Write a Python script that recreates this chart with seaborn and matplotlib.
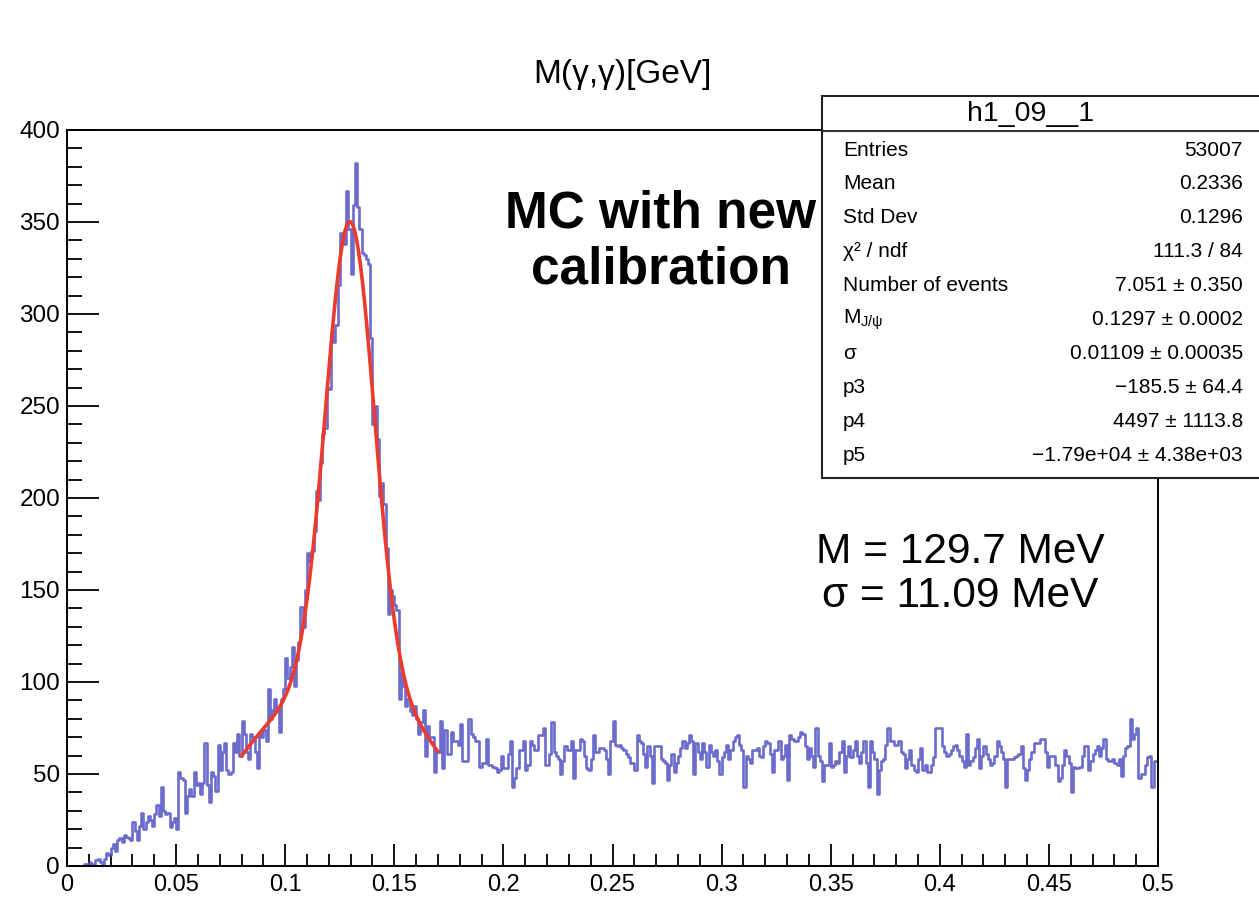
import numpy as np
import pandas as pd
import matplotlib
matplotlib.use("Agg")
import matplotlib.pyplot as plt
import seaborn as sns
from matplotlib.ticker import MultipleLocator, FixedLocator, FixedFormatter

# ---------------- data ----------------
# 500 bins of 0.001 GeV between 0 and 0.5
counts = [
    0, 0, 0, 0, 0, 0, 0, 0, 1, 0,
    2, 1, 0, 3, 4, 2, 1, 4, 7, 6,
    10, 12, 8, 14, 15, 13, 17, 16, 15, 14,
    24, 19, 14, 22, 29, 20, 24, 27, 25, 22,
    28, 33, 27, 43, 30, 28, 29, 21, 24, 26,
    20, 51, 48, 47, 29, 38, 42, 38, 51, 44,
    45, 39, 45, 67, 44, 35, 51, 49, 41, 66,
    52, 62, 67, 52, 50, 51, 67, 62, 72, 60,
    79, 72, 62, 58, 72, 70, 62, 53, 73, 70,
    74, 68, 96, 80, 85, 91, 84, 73, 91, 96,
    113, 102, 108, 119, 98, 112, 122, 141, 130, 150,
    170, 165, 171, 182, 204, 199, 219, 235, 238, 260,
    259, 290, 285, 294, 316, 344, 341, 338, 367, 346,
    322, 359, 382, 358, 346, 333, 332, 330, 327, 287,
    240, 250, 232, 201, 208, 197, 173, 137, 150, 147,
    142, 139, 91, 105, 98, 87, 91, 84, 82, 87,
    80, 72, 78, 85, 60, 76, 70, 70, 51, 62,
    62, 79, 53, 74, 61, 61, 73, 68, 68, 66,
    77, 57, 57, 57, 80, 72, 70, 68, 68, 54,
    56, 56, 69, 55, 55, 54, 53, 51, 52, 60,
    53, 53, 61, 68, 43, 48, 53, 63, 63, 68,
    52, 55, 68, 66, 63, 63, 71, 71, 75, 55,
    55, 61, 78, 62, 60, 58, 50, 57, 65, 63,
    63, 68, 48, 63, 63, 69, 68, 60, 53, 52,
    58, 71, 62, 62, 64, 64, 63, 58, 50, 68,
    79, 66, 65, 66, 64, 63, 61, 59, 56, 56,
    52, 71, 68, 67, 61, 54, 65, 60, 45, 65,
    65, 65, 58, 57, 56, 47, 55, 61, 51, 56,
    60, 64, 68, 64, 67, 71, 68, 50, 67, 62,
    58, 67, 62, 54, 66, 62, 60, 63, 57, 50,
    59, 62, 66, 58, 63, 68, 70, 71, 66, 63,
    43, 60, 58, 56, 63, 63, 64, 60, 59, 65,
    68, 67, 61, 51, 63, 63, 68, 58, 60, 66,
    47, 71, 69, 68, 68, 70, 73, 72, 65, 58,
    64, 60, 54, 75, 60, 57, 46, 55, 55, 67,
    54, 55, 57, 56, 62, 68, 51, 60, 65, 59,
    63, 68, 60, 56, 62, 68, 56, 43, 68, 62,
    58, 39, 52, 57, 58, 66, 75, 68, 68, 66,
    66, 68, 62, 61, 53, 58, 63, 55, 52, 51,
    58, 64, 52, 55, 51, 51, 55, 59, 75, 75,
    75, 65, 62, 60, 61, 63, 65, 66, 63, 60,
    57, 54, 72, 55, 57, 59, 64, 69, 53, 60,
    65, 61, 58, 55, 56, 60, 68, 65, 62, 58,
    43, 58, 58, 58, 59, 60, 61, 65, 53, 47,
    52, 58, 62, 67, 67, 67, 69, 69, 62, 54,
    60, 60, 60, 55, 46, 48, 55, 63, 60, 56,
    40, 54, 53, 53, 54, 60, 65, 65, 52, 57,
    61, 63, 65, 60, 64, 69, 58, 57, 57, 58,
    56, 55, 58, 49, 60, 64, 65, 80, 69, 72,
    75, 48, 50, 50, 55, 59, 60, 43, 57, 57,
]
x_min, x_max = 0.0, 0.5

# fit parameters as printed in the stat box (gaus + pol2)
n_events = 7.051
mass = 0.1297
sigma = 0.01109
p3, p4, p5 = -185.5, 4497.0, -1.79e4
fit_lo, fit_hi = 0.08, 0.17

stat_labels = ["Entries", "Mean", "Std Dev", "χ² / ndf", "Number of events",
               r"M$_{\mathregular{J/\psi}}$", "σ", "p3", "p4", "p5"]
stat_values = ["53007", "0.2336", "0.1296", "111.3 / 84", "7.051 ± 0.350",
               "0.1297 ± 0.0002", "0.01109 ± 0.00035", "−185.5 ± 64.4",
               "4497 ± 1113.8", "−1.79e+04 ± 4.38e+03"]

x_ticks = [0, 0.05, 0.1, 0.15, 0.2, 0.25, 0.3, 0.35, 0.4, 0.45, 0.5]
x_tick_labels = ["0", "0.05", "0.1", "0.15", "0.2", "0.25", "0.3", "0.35", "0.4", "0.45", "0.5"]
y_ticks = [0, 50, 100, 150, 200, 250, 300, 350, 400]

# ---------------- plotting ----------------
sns.set_style("white")
plt.rcParams["font.family"] = ["Liberation Sans", "DejaVu Sans"]
plt.rcParams["mathtext.fontset"] = "custom"
plt.rcParams["mathtext.rm"] = "Liberation Sans"
plt.rcParams["mathtext.it"] = "Liberation Sans:italic"
plt.rcParams["text.color"] = "black"
plt.rcParams["xtick.color"] = "black"
plt.rcParams["ytick.color"] = "black"

W, H = 1259, 901
fig = plt.figure(figsize=(W / 100, H / 100), dpi=100)

def fx(px):
    return px / W

def fy(py):
    return 1 - py / H

ax = fig.add_axes([fx(67), fy(866), (1158 - 67) / W, (866 - 130) / H])

bin_w = (x_max - x_min) / len(counts)
centers = x_min + bin_w * (np.arange(len(counts)) + 0.5)
hist_df = pd.DataFrame({"mass": centers, "count": counts})
sns.histplot(data=hist_df, x="mass", weights="count", bins=len(counts),
             binrange=(x_min, x_max), element="step", fill=False,
             color="#5252c4", linewidth=1.9, alpha=0.85, ax=ax)

xf = np.linspace(fit_lo, fit_hi, 100)
yf = (n_events / (np.sqrt(2 * np.pi) * sigma) * np.exp(-0.5 * ((xf - mass) / sigma) ** 2)
      + p3 + p4 * xf + p5 * xf ** 2)
sns.lineplot(x=xf, y=yf, color="#ec3b2c", linewidth=2.6, estimator=None, ax=ax)

ax.set_xlim(x_min, x_max)
ax.set_ylim(0, 400)
ax.set_xlabel("")
ax.set_ylabel("")
ax.xaxis.set_major_locator(FixedLocator(x_ticks))
ax.xaxis.set_major_formatter(FixedFormatter(x_tick_labels))
ax.xaxis.set_minor_locator(MultipleLocator(0.01))
ax.yaxis.set_major_locator(FixedLocator(y_ticks))
ax.yaxis.set_minor_locator(MultipleLocator(10))
ax.tick_params(axis="x", which="major", direction="in", length=16, width=1.3,
               labelsize=17, pad=6, bottom=True, top=False)
ax.tick_params(axis="x", which="minor", direction="in", length=8.5, width=1.3,
               bottom=True, top=False)
ax.tick_params(axis="y", which="major", direction="in", length=23, width=1.3,
               labelsize=17.5, pad=5, left=True, right=False)
ax.tick_params(axis="y", which="minor", direction="in", length=11, width=1.3,
               left=True, right=False)
for sp in ax.spines.values():
    sp.set_linewidth(1.4)
    sp.set_color("black")

fig.text(fx(622), fy(75), "M(γ,γ)[GeV]", ha="center", va="center", fontsize=24)

fig.text(fx(661), fy(242), "MC with new\ncalibration", ha="center", va="center",
         fontsize=37, fontweight="bold", linespacing=1.2, zorder=1)

fig.text(fx(960), fy(574), "M = 129.7 MeV\nσ = 11.09 MeV", ha="center", va="center",
         fontsize=30.5, linespacing=1.12)

# stat box
box = fig.add_axes([fx(822), fy(478), 460 / W, (478 - 96) / H], zorder=5)
box.set_xticks([])
box.set_yticks([])
box.set_xlim(0, 1)
box.set_ylim(0, 1)
box.set_facecolor("white")
for sp in box.spines.values():
    sp.set_linewidth(1.5)
    sp.set_color("#222222")
box.axhline((478 - 131) / (478 - 96), color="#333333", linewidth=1.5)

fig.text(fx(1031), fy(114), "h1_09__1", ha="center", va="center", fontsize=20.5, zorder=6)
for i, (lab, val) in enumerate(zip(stat_labels, stat_values)):
    yy = 150 + i * 33.9
    fig.text(fx(843), fy(yy), lab, ha="left", va="center", fontsize=15, zorder=6)
    fig.text(fx(1243), fy(yy), val, ha="right", va="center", fontsize=15, zorder=6)

fig.savefig("out.png", dpi=100)
